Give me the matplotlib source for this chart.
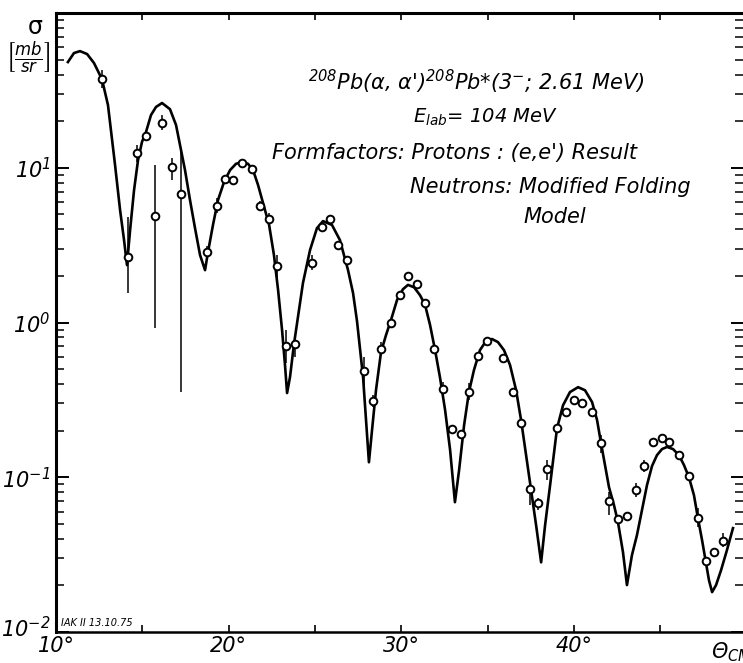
import numpy as np
import matplotlib
matplotlib.use("Agg")
import matplotlib.pyplot as plt
import matplotlib.transforms as mtransforms
from matplotlib.ticker import LogLocator, NullFormatter, FixedLocator

plt.rcParams['font.family'] = ['DejaVu Sans']
plt.rcParams['font.style'] = 'italic'
plt.rcParams['mathtext.fontset'] = 'dejavusans'
plt.rcParams['mathtext.default'] = 'it'

# DWBA curve (modified folding model)
theta_curve = [10.69, 11.04, 11.39, 11.80, 12.20, 12.66, 13.01, 13.42, 13.71, 13.94, 14.11,
               14.29, 14.52, 14.75, 14.98, 15.21, 15.50, 15.79, 16.14, 16.60, 16.95, 17.18,
               17.47, 17.76, 18.05, 18.34, 18.63,
               18.80, 19.09, 19.38, 19.73, 20.08, 20.42, 20.77, 21.12, 21.41, 21.70, 21.99,
               22.34, 22.62, 22.86, 23.09, 23.26, 23.38,
               23.55, 23.78, 23.96, 24.30, 24.71, 25.11, 25.46, 25.98, 26.44, 26.91, 27.20,
               27.43, 27.78, 28.12,
               28.30, 28.53, 28.82, 29.11, 29.40, 29.75, 30.09, 30.38, 30.73, 31.08, 31.37,
               31.66, 31.95, 32.24, 32.53, 32.82, 33.10,
               33.34, 33.63, 33.91, 34.20, 34.55, 34.90, 35.25, 35.59, 35.94, 36.29, 36.64,
               36.93, 37.22, 37.51, 37.80, 38.09,
               38.32, 38.61, 39.01, 39.36, 39.76, 40.23, 40.63, 41.04, 41.33, 41.56, 41.79,
               42.02, 42.31, 42.54, 42.83, 43.06,
               43.35, 43.64, 43.93, 44.22, 44.51, 44.80, 45.09, 45.38, 45.73, 46.07, 46.36,
               46.65, 46.94, 47.17, 47.41, 47.64, 47.81, 47.99, 48.22, 48.51, 48.85, 49.20]
sigma_curve = [48.2, 55.1, 56.7, 54.3, 47.5, 37.4, 25.4, 10.4, 5.33, 3.41, 2.35,
               3.95, 7.18, 11.2, 14.7, 17.0, 21.9, 24.7, 26.2, 23.9, 18.9, 14.0,
               9.66, 6.18, 4.07, 2.73, 2.18,
               2.85, 4.27, 6.18, 8.09, 9.66, 10.6, 10.9, 10.6, 9.66, 7.73, 5.92,
               4.27, 2.73, 1.62, 0.893, 0.531, 0.350,
               0.444, 0.725, 0.991, 1.80, 2.94, 4.07, 4.52, 4.27, 3.41, 2.18, 1.55,
               1.02, 0.444, 0.125,
               0.202, 0.366, 0.644, 0.830, 1.04, 1.40, 1.64, 1.75, 1.69, 1.50, 1.30,
               0.962, 0.663, 0.438, 0.272, 0.150, 0.069,
               0.111, 0.217, 0.355, 0.492, 0.663, 0.759, 0.782, 0.747, 0.663, 0.531, 0.366,
               0.234, 0.139, 0.0826, 0.0490, 0.0282,
               0.0490, 0.0889, 0.207, 0.292, 0.355, 0.382, 0.365, 0.306, 0.234, 0.166, 0.120,
               0.0863, 0.0660, 0.0513, 0.0328, 0.0201,
               0.0314, 0.0423, 0.0612, 0.0889, 0.118, 0.139, 0.152, 0.157, 0.152, 0.139, 0.120,
               0.100, 0.0766, 0.0545, 0.0392, 0.0279, 0.0216, 0.0181, 0.0201, 0.0251, 0.0338, 0.0469]

# measured cross sections with error bar limits
theta_data = [12.66, 14.17, 14.69, 15.21, 15.73, 16.14, 16.72, 17.24, 18.74, 19.32,
              19.79, 20.25, 20.77, 21.35, 21.81, 22.34, 22.80, 23.32, 23.84, 24.82,
              25.40, 25.87, 26.33, 26.85, 27.83, 28.36, 28.82, 29.40, 29.92, 30.38,
              30.90, 31.37, 31.89, 32.41, 32.93, 33.45, 33.91, 34.44, 34.96, 35.88,
              36.46, 36.93, 37.45, 37.91, 38.43, 39.01, 39.53, 39.99, 40.46, 41.04,
              41.56, 42.02, 42.54, 43.06, 43.58, 44.05, 44.57, 45.09, 45.50, 46.07,
              46.65, 47.17, 47.64, 48.10, 48.62]
sigma_data = [37.4, 2.65, 12.4, 16.0, 4.88, 19.5, 10.1, 6.76, 2.85, 5.65,
              8.45, 8.34, 10.7, 9.82, 5.65, 4.66, 2.32, 0.703, 0.725, 2.42,
              4.14, 4.66, 3.16, 2.53, 0.485, 0.310, 0.673, 0.991, 1.50, 2.00,
              1.77, 1.33, 0.673, 0.371, 0.205, 0.190, 0.355, 0.607, 0.759, 0.589,
              0.355, 0.224, 0.0838, 0.0681, 0.113, 0.207, 0.264, 0.315, 0.301, 0.264,
              0.166, 0.0702, 0.0536, 0.0561, 0.0826, 0.118, 0.169, 0.179, 0.169, 0.139,
              0.102, 0.0545, 0.0287, 0.0328, 0.0386]
sigma_hi = [42.9, 4.80, 14.0, 16.0, 10.4, 21.9, 11.6, 13.4, 3.1, 6.37,
            8.45, 8.34, 10.7, 9.82, 6.1, 5.1, 2.73, 0.893, 0.792, 2.73,
            4.14, 4.66, 3.3, 2.53, 0.597, 0.340, 0.747, 0.991, 1.56, 2.00,
            1.77, 1.33, 0.71, 0.412, 0.205, 0.198, 0.406, 0.607, 0.759, 0.589,
            0.37, 0.224, 0.0931, 0.0733, 0.129, 0.22, 0.264, 0.315, 0.301, 0.264,
            0.187, 0.0802, 0.0536, 0.059, 0.0916, 0.129, 0.169, 0.179, 0.169, 0.139,
            0.108, 0.0631, 0.0300, 0.0328, 0.0436]
sigma_lo = [32.7, 1.55, 10.9, 16.0, 0.92, 17.5, 8.34, 0.355, 2.6, 5.09,
            8.45, 8.34, 10.7, 9.82, 5.3, 4.3, 1.88, 0.547, 0.597, 2.18,
            4.14, 4.66, 3.0, 2.53, 0.382, 0.284, 0.615, 0.991, 1.45, 2.00,
            1.77, 1.33, 0.65, 0.325, 0.205, 0.178, 0.315, 0.607, 0.759, 0.589,
            0.335, 0.224, 0.0660, 0.0612, 0.0959, 0.195, 0.264, 0.315, 0.301, 0.264,
            0.143, 0.0569, 0.0536, 0.053, 0.0743, 0.108, 0.169, 0.179, 0.169, 0.139,
            0.096, 0.0477, 0.0275, 0.0328, 0.0353]

x_ticks = [10, 15, 20, 25, 30, 35, 40, 45]
x_labels = ['10°', '', '20°', '', '30°', '', '40°', '']
y_ticks = [1e-2, 1e-1, 1e0, 1e1]
y_labels = [r'$10^{-2}$', r'$10^{-1}$', r'$10^{0}$', r'$10^{1}$']

fig = plt.figure(figsize=(7.43, 6.63), dpi=100)
ax = fig.add_axes([56 / 743, 31 / 663, 687 / 743, 619 / 663])

ax.plot(theta_curve, sigma_curve, color='black', lw=1.9, zorder=2)
s = np.array(sigma_data)
yerr = [s - np.array(sigma_lo), np.array(sigma_hi) - s]
ax.errorbar(theta_data, sigma_data, yerr=yerr, fmt='o', ms=5.5, mfc='white', mec='black',
            mew=1.4, ecolor='black', elinewidth=1.1, capsize=0, zorder=3)

ax.set_yscale('log')
ax.set_xlim(10, 49.78)
ax.set_ylim(1e-2, 1e2)

ax.xaxis.set_major_locator(FixedLocator(x_ticks))
ax.set_xticklabels(x_labels, fontsize=15)
ax.set_yticks(y_ticks)
ax.set_yticklabels(y_labels, fontsize=15)
ax.yaxis.set_minor_locator(LogLocator(base=10, subs=np.arange(2, 10)))
ax.yaxis.set_minor_formatter(NullFormatter())

ax.tick_params(axis='x', which='major', direction='in', top=True, bottom=True,
               length=5, width=1.2, pad=3)
ax.tick_params(axis='y', which='major', direction='in', left=True, right=True,
               length=9, width=1.4, pad=4)
ax.tick_params(axis='y', which='minor', direction='in', left=True, right=True,
               length=6, width=1.1)

# lift the lowest y label a little, as in the original
lowest = ax.get_yticklabels()[0]
lowest.set_transform(lowest.get_transform() +
                     mtransforms.ScaledTranslation(0, 5 / 100, fig.dpi_scale_trans))

ax.spines['left'].set_linewidth(2.2)
ax.spines['top'].set_linewidth(2.2)
ax.spines['bottom'].set_linewidth(1.8)
ax.spines['right'].set_visible(False)

# labels in the plot area
ax.text(0.367, 0.876, r"$^{208}$Pb(α, α')$^{208}$Pb*(3$^{-}$; 2.61 MeV)", transform=ax.transAxes,
        fontsize=15, va='baseline')
ax.text(0.520, 0.822, r"E$_{lab}$= 104 MeV", transform=ax.transAxes, fontsize=14, va='baseline')
ax.text(0.314, 0.764, "Formfactors: Protons : (e,e') Result", transform=ax.transAxes,
        fontsize=15, va='baseline')
ax.text(0.515, 0.709, "Neutrons: Modified Folding", transform=ax.transAxes,
        fontsize=15, va='baseline')
ax.text(0.680, 0.660, "Model", transform=ax.transAxes, fontsize=15, va='baseline')

fig.text(35 / 743, 1 - 27 / 663, 'σ', fontsize=17, ha='center', va='center', style='normal')
fig.text(28 / 743, 1 - 57 / 663, r'$\left[\frac{mb}{sr}\right]$', fontsize=17,
         ha='center', va='center')
fig.text(61 / 743, 1 - 626 / 663, 'IAK II 13.10.75', fontsize=7, va='baseline')
fig.text(711 / 743, 1 - 652 / 663, r'$\Theta_{CM}$', fontsize=15, va='center')

fig.savefig('out.png', dpi=100)
